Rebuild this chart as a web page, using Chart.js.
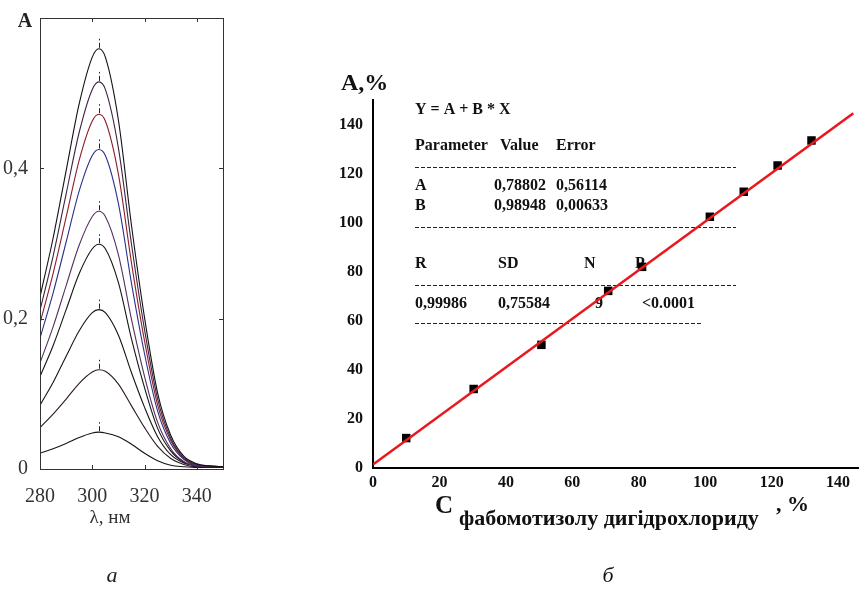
<!DOCTYPE html>
<html><head><meta charset="utf-8">
<script src="https://cdn.jsdelivr.net/npm/chart.js@4/dist/chart.umd.min.js"></script>
<style>
html,body{margin:0;padding:0;background:#fff;}
#wrap{position:relative;width:864px;height:590px;overflow:hidden;}
.c{position:absolute;left:0;top:0;width:864px;height:590px;}
</style></head><body>
<div id="wrap">
<div class="c"><canvas id="ca" width="864" height="590"></canvas></div>
<div class="c"><canvas id="cb" width="864" height="590"></canvas></div>
</div>
<script>
// ---------- panel a: absorption spectra ----------
const spectraWavelength = [280, 285, 290, 295, 300, 302.5, 305, 310, 315, 320, 325, 330, 335, 340, 345, 350];
const spectrum1 = [0.229, 0.307, 0.397, 0.486, 0.548, 0.559, 0.548, 0.464, 0.324, 0.201, 0.101, 0.045, 0.017, 0.007, 0.004, 0.003];
const spectrum2 = [0.211, 0.283, 0.366, 0.448, 0.505, 0.515, 0.505, 0.427, 0.299, 0.185, 0.093, 0.041, 0.015, 0.006, 0.004, 0.003];
const spectrum3 = [0.194, 0.260, 0.335, 0.411, 0.463, 0.472, 0.463, 0.392, 0.274, 0.170, 0.085, 0.038, 0.014, 0.006, 0.004, 0.003];
const spectrum4 = [0.174, 0.234, 0.302, 0.370, 0.417, 0.425, 0.417, 0.353, 0.247, 0.153, 0.077, 0.034, 0.013, 0.005, 0.004, 0.003];
const spectrum5 = [0.141, 0.189, 0.244, 0.298, 0.336, 0.343, 0.336, 0.285, 0.199, 0.123, 0.062, 0.027, 0.010, 0.004, 0.003, 0.003];
const spectrum6 = [0.123, 0.164, 0.212, 0.260, 0.293, 0.299, 0.293, 0.248, 0.173, 0.108, 0.054, 0.024, 0.009, 0.004, 0.003, 0.003];
const spectrum7 = [0.085, 0.115, 0.150, 0.184, 0.208, 0.212, 0.208, 0.178, 0.128, 0.082, 0.043, 0.019, 0.008, 0.004, 0.003, 0.003];
const spectrum8 = [0.055, 0.073, 0.093, 0.114, 0.129, 0.132, 0.130, 0.113, 0.084, 0.055, 0.030, 0.014, 0.006, 0.003, 0.003, 0.003];
const spectrum9 = [0.021, 0.027, 0.034, 0.042, 0.048, 0.049, 0.048, 0.043, 0.033, 0.021, 0.011, 0.005, 0.003, 0.002, 0.002, 0.002];
const spectraPeakWavelength = [302.5, 302.5, 302.5, 302.5, 302.5, 302.5, 302.5, 302.5, 302.5];
const spectraPeakValue = [0.559, 0.515, 0.472, 0.425, 0.343, 0.299, 0.212, 0.132, 0.049];
const spectraTicksX = [280, 300, 320, 340];
const spectraTicksY = [0, 0.2, 0.4];

// ---------- panel b: calibration ----------
const concentration = [10, 30.3, 50.7, 70.8, 81, 101.4, 111.6, 121.8, 132];
const foundPercent = [12.2, 32.2, 50.2, 72.2, 82, 102.4, 112.6, 123.3, 133.5];
const fitX = [0, 144.6];
const fitY = [1.4, 144.6];
const calibTicksX = [0, 20, 40, 60, 80, 100, 120, 140];
const calibTicksY = [0, 20, 40, 60, 80, 100, 120, 140];
const statsHeader = ['Parameter', 'Value', 'Error'];
const statsRowA = ['A', '0,78802', '0,56114'];
const statsRowB = ['B', '0,98948', '0,00633'];
const statsHeader2 = ['R', 'SD', 'N', 'P'];
const statsRow2 = ['0,99986', '0,75584', '9', '<0.0001'];

// styles
const spectraColors = ['#111111', '#3d2440', '#8a1f2a', '#2b2f8c', '#55305e', '#151515', '#151515', '#2a1a22', '#151515'];
const SERIF = '"Liberation Serif", "Times New Roman", serif';

Chart.defaults.animation = false;
Chart.defaults.responsive = false;
Chart.defaults.plugins.legend.display = false;
Chart.defaults.plugins.tooltip.enabled = false;

const spectraAll = [spectrum1, spectrum2, spectrum3, spectrum4, spectrum5, spectrum6, spectrum7, spectrum8, spectrum9];
const spectraDatasets = spectraAll.map((s, k) => ({
  type: 'line',
  data: spectraWavelength.map((w, i) => ({x: w, y: s[i]})),
  borderColor: spectraColors[k],
  borderWidth: 1.1,
  pointRadius: 0,
  cubicInterpolationMode: 'monotone',
  fill: false
}));

const panelA = {
  id: 'panelA',
  afterDatasetsDraw(chart) {
    const {ctx, chartArea: a, scales: {x, y}} = chart;
    ctx.save();
    // peak marks: short dotted verticals above each peak
    ctx.strokeStyle = '#222'; ctx.lineWidth = 1;
    spectraPeakValue.forEach((v, i) => {
      const px = Math.round(x.getPixelForValue(spectraPeakWavelength[i])) + 0.5;
      const py = y.getPixelForValue(v);
      ctx.beginPath(); ctx.moveTo(px, py - 1); ctx.lineTo(px, py - 6); ctx.stroke();
      ctx.fillStyle = '#222'; ctx.fillRect(px - 0.5, py - 10, 1, 1.5);
    });
    // frame
    ctx.strokeStyle = '#333'; ctx.lineWidth = 1;
    ctx.strokeRect(a.left + 0.5, a.top + 0.5, a.right - a.left, a.bottom - a.top);
    spectraTicksX.forEach(v => {
      const px = Math.round(x.getPixelForValue(v)) + 0.5;
      ctx.beginPath();
      ctx.moveTo(px, a.top); ctx.lineTo(px, a.top + 4);
      ctx.moveTo(px, a.bottom); ctx.lineTo(px, a.bottom - 4);
      ctx.stroke();
    });
    spectraTicksY.forEach(v => {
      const py = Math.round(y.getPixelForValue(v)) + 0.5;
      ctx.beginPath();
      ctx.moveTo(a.left, py); ctx.lineTo(a.left + 4, py);
      ctx.moveTo(a.right, py); ctx.lineTo(a.right - 4, py);
      ctx.stroke();
    });
    // texts
    ctx.fillStyle = '#222';
    ctx.textAlign = 'center'; ctx.textBaseline = 'middle';
    ctx.font = 'bold 20px ' + SERIF;
    ctx.fillText('A', 25, 22);
    ctx.font = '19px ' + SERIF; ctx.fillStyle = '#333';
    ctx.fillText('λ, нм', 110, 518);
    ctx.fillStyle = '#222';
    ctx.font = 'italic 22px ' + SERIF;
    ctx.fillText('а', 112, 576);
    ctx.restore();
  }
};

new Chart(document.getElementById('ca'), {
  type: 'line',
  data: {datasets: spectraDatasets},
  options: {
    layout: {padding: {left: 0, top: 18, right: 641, bottom: 81}},
    scales: {
      x: {
        type: 'linear', min: 280, max: 350,
        afterBuildTicks: s => { s.ticks = spectraTicksX.map(v => ({value: v})); },
        afterFit: s => { s.height = 40; },
        grid: {display: false}, border: {display: false},
        ticks: {color: '#333', font: {family: SERIF, size: 20}, padding: 8, maxRotation: 0}
      },
      y: {
        type: 'linear', min: 0, max: 0.6,
        afterBuildTicks: s => { s.ticks = spectraTicksY.map(v => ({value: v})); },
        afterFit: s => { s.width = 40; },
        grid: {display: false}, border: {display: false},
        ticks: {color: '#333', font: {family: SERIF, size: 20}, padding: 4,
          callback: v => String(v).replace('.', ',')}
      }
    }
  },
  plugins: [panelA]
});

// ---------- panel b ----------
const panelB = {
  id: 'panelB',
  beforeDatasetsDraw(chart) {
    const {ctx} = chart;
    ctx.save();
    ctx.fillStyle = '#111';
    ctx.textAlign = 'left'; ctx.textBaseline = 'middle';
    ctx.font = 'bold 16px ' + SERIF;
    const L = 415;
    ctx.fillText('Y = A + B * X', L, 110);
    ctx.fillText(statsHeader[0], L, 146);
    ctx.fillText(statsHeader[1], 500, 146);
    ctx.fillText(statsHeader[2], 556, 146);
    ctx.fillText(statsRowA[0], L, 186);
    ctx.fillText(statsRowA[1], 494, 186);
    ctx.fillText(statsRowA[2], 556, 186);
    ctx.fillText(statsRowB[0], L, 206);
    ctx.fillText(statsRowB[1], 494, 206);
    ctx.fillText(statsRowB[2], 556, 206);
    ctx.fillText(statsHeader2[0], L, 264);
    ctx.fillText(statsHeader2[1], 498, 264);
    ctx.fillText(statsHeader2[2], 584, 264);
    ctx.fillText(statsHeader2[3], 635, 264);
    ctx.fillText(statsRow2[0], L, 304);
    ctx.fillText(statsRow2[1], 498, 304);
    ctx.fillText(statsRow2[2], 595, 304);
    ctx.fillText(statsRow2[3], 642, 304);
    ctx.strokeStyle = '#222'; ctx.lineWidth = 1.2; ctx.setLineDash([4, 2]);
    [[167, 736], [227, 736], [285, 736], [323, 703]].forEach(([yy, xe]) => {
      ctx.beginPath(); ctx.moveTo(L, yy + 0.5); ctx.lineTo(xe, yy + 0.5); ctx.stroke();
    });
    ctx.restore();
  },
  afterDraw(chart) {
    const {ctx} = chart;
    ctx.save();
    ctx.fillStyle = '#111';
    ctx.textBaseline = 'alphabetic'; ctx.textAlign = 'left';
    ctx.font = 'bold 24px ' + SERIF;
    ctx.fillText('A,%', 341, 90);
    ctx.font = 'bold 25px ' + SERIF;
    ctx.fillText('C', 435, 513);
    ctx.font = 'bold 22px ' + SERIF;
    ctx.fillText('фабомотизолу дигідрохлориду', 459, 525);
    ctx.fillText(', %', 776, 511);
    ctx.font = 'italic 22px ' + SERIF;
    ctx.textAlign = 'center';
    ctx.fillText('б', 608, 582);
    ctx.restore();
  }
};

new Chart(document.getElementById('cb'), {
  type: 'scatter',
  data: {
    datasets: [
      {
        type: 'line',
        data: fitX.map((v, i) => ({x: v, y: fitY[i]})),
        borderColor: '#e8191e', borderWidth: 2.6, pointRadius: 0, order: 0
      },
      {
        type: 'scatter',
        data: concentration.map((v, i) => ({x: v, y: foundPercent[i]})),
        pointStyle: 'rect', pointRadius: 6, backgroundColor: '#000', borderColor: '#000', borderWidth: 0, order: 1
      }
    ]
  },
  options: {
    layout: {padding: {left: 323, top: 100, right: 4, bottom: 92}},
    scales: {
      x: {
        type: 'linear', min: 0, max: 146,
        afterBuildTicks: s => { s.ticks = calibTicksX.map(v => ({value: v})); },
        afterFit: s => { s.height = 30; },
        grid: {display: false},
        border: {display: true, color: '#000', width: 2},
        ticks: {color: '#111', font: {family: SERIF, size: 16, weight: 'bold'}, padding: -3, maxRotation: 0}
      },
      y: {
        type: 'linear', min: 0, max: 150,
        afterBuildTicks: s => { s.ticks = calibTicksY.map(v => ({value: v})); },
        afterFit: s => { s.width = 50; },
        grid: {display: false},
        border: {display: true, color: '#000', width: 2},
        ticks: {color: '#111', font: {family: SERIF, size: 16, weight: 'bold'}, padding: 2}
      }
    }
  },
  plugins: [panelB]
});
</script>
</body></html>
